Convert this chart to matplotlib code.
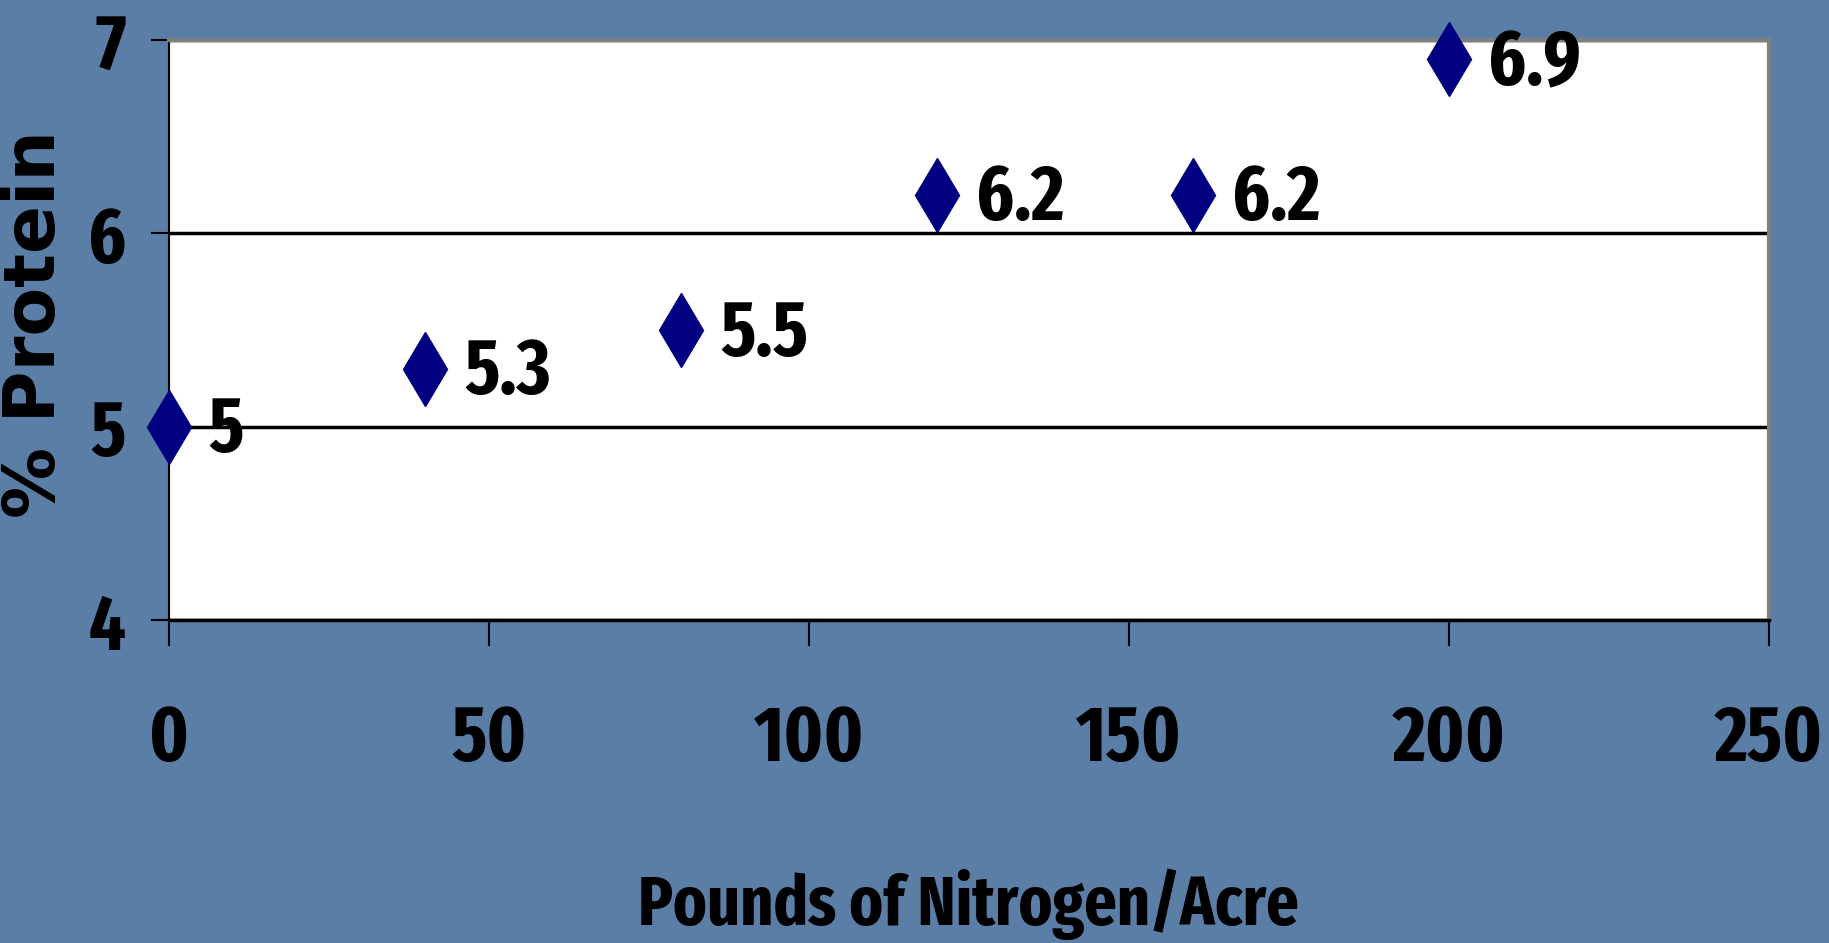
import matplotlib.pyplot as plt

# nitrogen rate vs protein content
nitrogen = [0, 40, 80, 120, 160, 200]
protein = [5.0, 5.3, 5.5, 6.2, 6.2, 6.9]
point_labels = ["5", "5.3", "5.5", "6.2", "6.2", "6.9"]
x_ticks = [0, 50, 100, 150, 200, 250]
y_ticks = [4, 5, 6, 7]

BG = "#5b7ea6"
NARROW = ["Fira Sans Extra Condensed", "DejaVu Sans"]
FS = 56

fig = plt.figure(figsize=(18.29, 9.43), dpi=100, facecolor=BG)
ax = fig.add_axes([169/1829, 1 - 620/943, 1600/1829, 580/943])
ax.set_facecolor("white")

ax.plot(nitrogen, protein, linestyle="none", marker="d", markersize=38,
        color="#000080", clip_on=False, zorder=5)
for x, y, lab in zip(nitrogen, protein, point_labels):
    ax.annotate(lab, (x, y), xytext=(28, 3), textcoords="offset points",
                ha="left", va="center_baseline", fontsize=FS, fontweight="bold",
                family=NARROW, color="black", zorder=6, annotation_clip=False)

ax.set_xlim(0, 250)
ax.set_ylim(4, 7)
ax.set_xticks(x_ticks)
ax.set_yticks(y_ticks)
ax.set_xticklabels([str(v) for v in x_ticks], fontsize=FS, fontweight="bold", family=NARROW)
ax.set_yticklabels([str(v) for v in y_ticks], fontsize=FS, fontweight="bold", family=NARROW)
ax.tick_params(axis="x", direction="out", length=19, width=1.5, pad=40, colors="black")
ax.tick_params(axis="y", direction="out", length=13, width=1.5, pad=18, colors="black")

ax.yaxis.grid(True, color="black", linewidth=2.5)
ax.set_axisbelow(True)
ax.spines["left"].set_color("black")
ax.spines["left"].set_linewidth(1.5)
ax.spines["bottom"].set_color("black")
ax.spines["bottom"].set_linewidth(2.5)
for side in ("top", "right"):
    ax.spines[side].set_color("#808080")
    ax.spines[side].set_linewidth(3)

fig.text(968/1829, 18/943, "Pounds of Nitrogen/Acre", ha="center", va="baseline",
         fontsize=50, fontweight="bold", family=NARROW)
fig.text(36/1829, 1 - 324/943, "% Protein", ha="center", va="center", rotation=90,
         fontsize=51, fontweight="bold", family=["DejaVu Sans"])

fig.savefig("out.png", dpi=100, facecolor=BG)
